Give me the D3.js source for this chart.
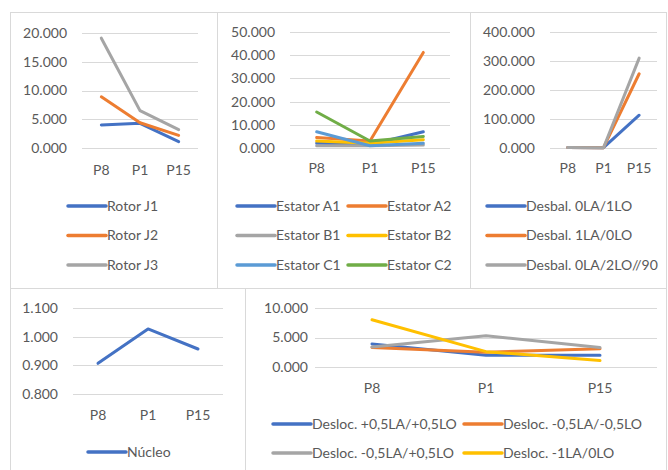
<!DOCTYPE html>
<html>
<head>
<meta charset="utf-8">
<script src="https://cdn.jsdelivr.net/npm/d3@7"></script>
<style>
  body { margin: 0; background: #fff; }
  svg text { font-family: Lato, "Noto Sans", sans-serif; font-size: 14px; fill: #595959; }
</style>
</head>
<body>
<svg id="chart" width="668" height="470"></svg>
<script>
// categories shared by all panels
var categories = ['P8', 'P1', 'P15'];

// series colours (Office palette)
var colors = ['#4472C4', '#ED7D31', '#A5A5A5', '#FFC000', '#5B9BD5', '#70AD47'];

// panel 1 - rotor
var rotorNames = ['Rotor J1', 'Rotor J2', 'Rotor J3'];
var rotorValues = [
    [4.0, 4.3, 1.1],
    [8.9, 4.4, 2.2],
    [19.1, 6.5, 3.2]
];
var rotorTicks = [0, 5, 10, 15, 20];

// panel 2 - estator
var estatorNames = ['Estator A1', 'Estator A2', 'Estator B1', 'Estator B2', 'Estator C1', 'Estator C2'];
var estatorValues = [
    [2.0, 1.5, 7.0],
    [4.5, 3.0, 41.2],
    [1.0, 1.0, 1.3],
    [3.0, 2.0, 3.6],
    [7.0, 1.0, 2.0],
    [15.5, 3.0, 5.0]
];
var estatorTicks = [0, 10, 20, 30, 40, 50];

// panel 3 - desbalanceamento
var desbalNames = ['Desbal. 0LA/1LO', 'Desbal. 1LA/0LO', 'Desbal. 0LA/2LO//90'];
var desbalValues = [
    [1.5, 1.0, 113],
    [1.5, 1.0, 256],
    [2.0, 1.0, 310]
];
var desbalTicks = [0, 100, 200, 300, 400];

// panel 4 - nucleo
var nucleoNames = ['Núcleo'];
var nucleoValues = [
    [0.907, 1.027, 0.957]
];
var nucleoTicks = [0.8, 0.9, 1.0, 1.1];

// panel 5 - deslocamento
var deslocNames = ['Desloc. +0,5LA/+0,5LO', 'Desloc. -0,5LA/-0,5LO', 'Desloc. -0,5LA/+0,5LO', 'Desloc. -1LA/0LO'];
var deslocValues = [
    [3.9, 2.0, 2.0],
    [3.3, 2.5, 3.1],
    [3.4, 5.3, 3.3],
    [8.0, 2.6, 1.1]
];
var deslocTicks = [0, 5, 10];

var svg = d3.select('#chart');
var fmt = d3.format('.3f');

// panel layout: box, plot area, tick label gap, category label y, legend
var panels = [
    { names: rotorNames, values: rotorValues, ticks: rotorTicks, colorIdx: [0, 1, 2],
      box: [10, 12, 217, 288], plot: [82, 33, 198, 148], gap: 15, catY: 170,
      legend: { cols: [68], y0: 206, dy: 29.5 } },
    { names: estatorNames, values: estatorValues, ticks: estatorTicks, colorIdx: [0, 1, 2, 3, 4, 5],
      box: [217, 12, 470, 288], plot: [290, 32, 450, 148], gap: 15, catY: 168,
      legend: { cols: [237, 348], y0: 206, dy: 29.5 } },
    { names: desbalNames, values: desbalValues, ticks: desbalTicks, colorIdx: [0, 1, 2],
      box: [470, 12, 666, 288], plot: [550, 32, 657, 148], gap: 15, catY: 168,
      legend: { cols: [487], y0: 206, dy: 29.5 } },
    { names: nucleoNames, values: nucleoValues, ticks: nucleoTicks, colorIdx: [0],
      box: [10, 288, 245, 470], plot: [73, 308, 223, 394], gap: 15, catY: 415,
      legend: { cols: [88], y0: 452, dy: 29 } },
    { names: deslocNames, values: deslocValues, ticks: deslocTicks, colorIdx: [0, 1, 2, 3],
      box: [245, 288, 666, 470], plot: [315, 308, 657, 367], gap: 7, catY: 388,
      legend: { cols: [273, 464], y0: 424, dy: 29 } }
];

panels.forEach(drawPanel);

function drawPanel(p)
{
    var g = svg.append('g');

    // border
    g.append('rect')
        .attr('x', p.box[0] + 0.5).attr('y', p.box[1] + 0.5)
        .attr('width', p.box[2] - p.box[0]).attr('height', p.box[3] - p.box[1])
        .attr('fill', 'none').attr('stroke', '#d9d9d9');

    var x = d3.scaleBand().domain(categories).range([p.plot[0], p.plot[2]]);
    var y = d3.scaleLinear()
        .domain([p.ticks[0], p.ticks[p.ticks.length - 1]])
        .range([p.plot[3], p.plot[1]]);

    // gridlines
    g.selectAll('line.grid').data(p.ticks).enter().append('line')
        .attr('x1', p.plot[0]).attr('x2', p.plot[2])
        .attr('y1', d => Math.round(y(d)) + 0.5).attr('y2', d => Math.round(y(d)) + 0.5)
        .attr('stroke', '#d9d9d9').attr('stroke-width', 1);

    // y tick labels
    g.selectAll('text.ytick').data(p.ticks).enter().append('text')
        .attr('x', p.plot[0] - p.gap)
        .attr('y', d => y(d))
        .attr('dy', '0.35em')
        .attr('text-anchor', 'end')
        .text(d => fmt(d));

    // category labels
    g.selectAll('text.xtick').data(categories).enter().append('text')
        .attr('x', d => x(d) + x.bandwidth() / 2)
        .attr('y', p.catY)
        .attr('dy', '0.35em')
        .attr('text-anchor', 'middle')
        .text(d => d);

    // series lines
    var line = d3.line()
        .x((d, i) => x(categories[i]) + x.bandwidth() / 2)
        .y(d => y(d));
    g.selectAll('path.series').data(p.values).enter().append('path')
        .attr('d', line)
        .attr('fill', 'none')
        .attr('stroke', (d, i) => colors[p.colorIdx[i]])
        .attr('stroke-width', 3)
        .attr('stroke-linejoin', 'round')
        .attr('stroke-linecap', 'round');

    // legend
    var ncol = p.legend.cols.length;
    var items = g.selectAll('g.leg').data(p.names).enter().append('g')
        .attr('transform', (d, i) => 'translate(' + p.legend.cols[i % ncol] + ','
            + (p.legend.y0 + Math.floor(i / ncol) * p.legend.dy) + ')');
    items.append('line')
        .attr('x1', 0).attr('x2', 38)
        .attr('stroke', (d, i) => colors[p.colorIdx[i]])
        .attr('stroke-width', 3.5)
        .attr('stroke-linecap', 'round');
    items.append('text')
        .attr('x', 39)
        .attr('dy', '0.35em')
        .text(d => d);
}
</script>
</body>
</html>
